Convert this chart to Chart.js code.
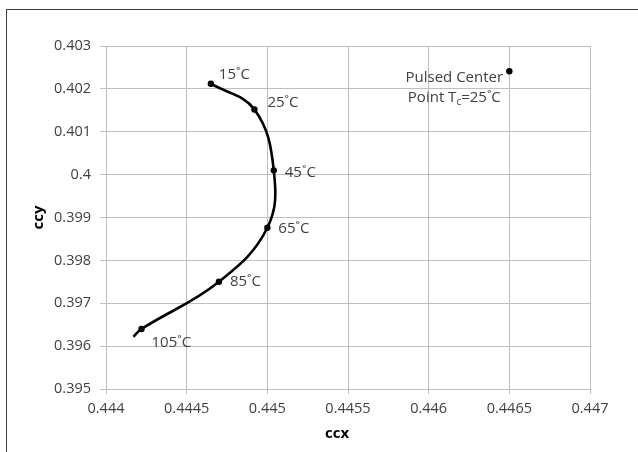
<!DOCTYPE html>
<html>
<head>
<meta charset="utf-8">
<script src="https://cdn.jsdelivr.net/npm/chart.js@4"></script>
<style>
  html, body { margin: 0; padding: 0; background: #fff; overflow: hidden; }
  #frame { position: absolute; left: 6px; top: 9px; width: 700px; height: 500px; border: 1px solid #3c3c3c; }
  #wrap { position: absolute; left: 0; top: 0; width: 638px; height: 452px; }
</style>
</head>
<body>
<div id="frame"></div>
<div id="wrap"><canvas id="chart" width="638" height="452"></canvas></div>
<script>
// measured points
const tempLabels = ['15˚C', '25˚C', '45˚C', '65˚C', '85˚C', '105˚C'];
const ccxValues = [0.44465, 0.44492, 0.44504, 0.44500, 0.44470, 0.44422];
const ccyValues = [0.40212, 0.40152, 0.40010, 0.39876, 0.39750, 0.39640];

// smooth trend line, runs a bit past the 105˚C point
const curveX = [0.44465, 0.44492, 0.44504, 0.44500, 0.44470, 0.44422, 0.44417];
const curveY = [0.40212, 0.40152, 0.40010, 0.39876, 0.39750, 0.39640, 0.39622];

// pulsed center point
const pulsedX = [0.4465];
const pulsedY = [0.40241];

const xTicks = [0.444, 0.4445, 0.445, 0.4455, 0.446, 0.4465, 0.447];
const xTickLabels = ['0.444', '0.4445', '0.445', '0.4455', '0.446', '0.4465', '0.447'];
const yTicks = [0.395, 0.396, 0.397, 0.398, 0.399, 0.4, 0.401, 0.402, 0.403];
const yTickLabels = ['0.395', '0.396', '0.397', '0.398', '0.399', '0.4', '0.401', '0.402', '0.403'];

// where each temperature label sits relative to its point (px)
const labelOffsets = [[8, -9], [13, -7], [11, 2], [11, 1], [11, 0], [10, 14]];

const FONT = '"Open Sans", sans-serif';
const TEXT = '#404040';
const GRID = '#bfbfbf';

const toXY = (xs, ys) => xs.map((x, i) => ({ x: x, y: ys[i] }));

const labelPlugin = {
  id: 'labelPlugin',
  afterDatasetsDraw(chart) {
    const ctx = chart.ctx;
    ctx.save();
    ctx.fillStyle = TEXT;
    ctx.font = '15px ' + FONT;
    ctx.textBaseline = 'middle';
    ctx.textAlign = 'left';
    chart.getDatasetMeta(1).data.forEach((pt, i) => {
      const off = labelOffsets[i];
      ctx.fillText(tempLabels[i], pt.x + off[0], pt.y + off[1]);
    });

    // Pulsed Center / Point Tc=25˚C
    const p = chart.getDatasetMeta(2).data[0];
    const cx = p.x - 55;
    ctx.textAlign = 'center';
    ctx.fillText('Pulsed Center', cx, p.y + 6);
    ctx.textAlign = 'left';
    const big = '15px ' + FONT, small = '10px ' + FONT;
    ctx.font = big;
    const w1 = ctx.measureText('Point T').width;
    const w3 = ctx.measureText('=25˚C').width;
    ctx.font = small;
    const w2 = ctx.measureText('c').width;
    let x = cx - (w1 + w2 + w3) / 2;
    const y = p.y + 26;
    ctx.font = big;
    ctx.fillText('Point T', x, y);
    x += w1;
    ctx.font = small;
    ctx.fillText('c', x, y + 5);
    x += w2;
    ctx.font = big;
    ctx.fillText('=25˚C', x, y);

    // axis titles
    ctx.font = 'bold 15px ' + FONT;
    ctx.fillStyle = '#000';
    ctx.textAlign = 'center';
    ctx.fillText('ccx', 337, 434);
    ctx.translate(39, (chart.chartArea.top + chart.chartArea.bottom) / 2);
    ctx.rotate(-Math.PI / 2);
    ctx.fillText('ccy', 0, 0);
    ctx.restore();
  }
};

new Chart(document.getElementById('chart'), {
  type: 'scatter',
  data: {
    datasets: [
      {
        data: toXY(curveX, curveY),
        showLine: true,
        tension: 0.4,
        borderColor: '#000',
        borderWidth: 2.6,
        pointRadius: 0,
        fill: false
      },
      {
        data: toXY(ccxValues, ccyValues),
        pointRadius: 3.2,
        pointBackgroundColor: '#000',
        pointBorderColor: '#000',
        pointBorderWidth: 0
      },
      {
        data: toXY(pulsedX, pulsedY),
        pointRadius: 3.2,
        pointBackgroundColor: '#000',
        pointBorderColor: '#000',
        pointBorderWidth: 0
      }
    ]
  },
  options: {
    responsive: false,
    animation: false,
    layout: { padding: { left: 0, top: 46, right: 48, bottom: 20 } },
    plugins: { legend: { display: false }, tooltip: { enabled: false } },
    scales: {
      x: {
        type: 'linear',
        min: 0.444,
        max: 0.447,
        afterBuildTicks: s => { s.ticks = xTicks.map(v => ({ value: v })); },
        afterFit: s => { s.height = 43; },
        ticks: {
          color: TEXT,
          font: { family: FONT, size: 14.5 },
          padding: 6,
          maxRotation: 0,
          callback: (v, i) => xTickLabels[i]
        },
        grid: { color: GRID, tickLength: 5, drawTicks: true },
        border: { color: GRID }
      },
      y: {
        type: 'linear',
        min: 0.395,
        max: 0.403,
        afterBuildTicks: s => { s.ticks = yTicks.map(v => ({ value: v })); },
        afterFit: s => { s.width = 106; },
        ticks: {
          color: TEXT,
          font: { family: FONT, size: 14.5 },
          padding: 9,
          callback: (v, i) => yTickLabels[i]
        },
        grid: { color: GRID, tickLength: 6, drawTicks: true },
        border: { color: GRID }
      }
    }
  },
  plugins: [labelPlugin]
});
</script>
</body>
</html>
